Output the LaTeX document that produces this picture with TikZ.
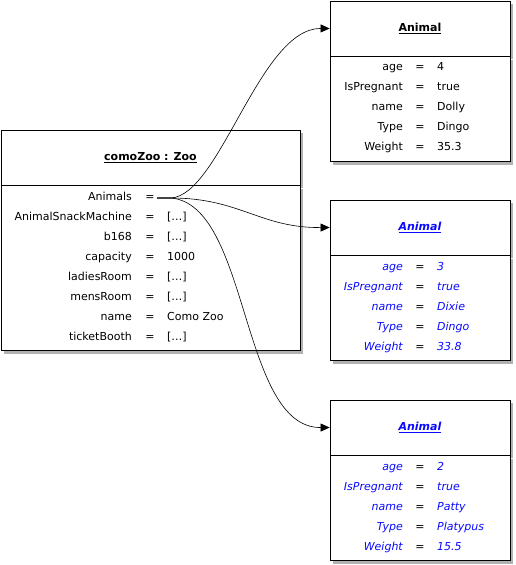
\documentclass[tikz,border=0pt]{standalone}
\usepackage{fontspec}
\setmainfont{DejaVu Sans}
\usetikzlibrary{arrows.meta,shadows}
\definecolor{objblue}{RGB}{10,10,255}
\tikzset{
  objbox/.style={draw=black, fill=white, line width=0.8pt, inner sep=0pt, drop shadow={shadow xshift=3pt, shadow yshift=-3pt, fill=black!30, opacity=1}},
  objtitle/.style={font=\fontsize{11}{13}\selectfont\bfseries},
  objtitleblue/.style={font=\fontsize{11}{13}\selectfont\bfseries\itshape, text=objblue},
  attr/.style={inner sep=0pt, font=\fontsize{11}{13}\selectfont},
  attrblue/.style={attr, font=\fontsize{11}{13}\selectfont\itshape, text=objblue},
  link/.style={-{Triangle[length=9pt,width=8pt]}, line width=0.6pt}
}
\begin{document}
\begin{tikzpicture}[x=1pt, y=1pt]
\useasboundingbox (0,0) rectangle (515,-565);

\node[objbox, objtitle, minimum width=299pt, minimum height=55pt] (zooHead) at (150.5,-157.5) {\underline{comoZoo : Zoo}};
\node[objbox, minimum width=299pt, minimum height=165pt, anchor=north] (zooBody) at (zooHead.south) {};
\foreach \key [count=\i] in {Animals, AnimalSnackMachine, b168, capacity, ladiesRoom, mensRoom, name, ticketBooth} {
  \node[attr, anchor=mid east] (zooKey\i) at (132,{-178-20*\i}) {\key};
  \node[attr] (zooEq\i) at (150,{-178-20*\i}) {=};
}
\foreach \val [count=\i from 2] in {{[…]}, {[…]}, 1000, {[…]}, {[…]}, Como Zoo, {[…]}} {
  \node[attr, anchor=mid west] (zooVal\i) at (167,{-178-20*\i}) {\val};
}
\coordinate (animalsLink) at (157,-198);

\node[objbox, objtitle, minimum width=180pt, minimum height=55pt] (dollyHead) at (420,-28.5) {\underline{Animal}};
\node[objbox, minimum width=180pt, minimum height=105pt, anchor=north] (dollyBody) at (dollyHead.south) {};
\foreach \key/\val [count=\i] in {age/4, IsPregnant/true, name/Dolly, Type/Dingo, Weight/35.3} {
  \node[attr, anchor=mid east] (dollyKey\i) at (403,{-48-20*\i}) {\key};
  \node[attr] (dollyEq\i) at (420,{-48-20*\i}) {=};
  \node[attr, anchor=mid west] (dollyVal\i) at (437,{-48-20*\i}) {\val};
}

\node[objbox, objtitleblue, minimum width=180pt, minimum height=55pt] (dixieHead) at (420,-227.5) {\underline{Animal}};
\node[objbox, minimum width=180pt, minimum height=105pt, anchor=north] (dixieBody) at (dixieHead.south) {};
\foreach \key/\val [count=\i] in {age/3, IsPregnant/true, name/Dixie, Type/Dingo, Weight/33.8} {
  \node[attrblue, anchor=mid east] (dixieKey\i) at (403,{-248-20*\i}) {\key};
  \node[attr] (dixieEq\i) at (420,{-248-20*\i}) {=};
  \node[attrblue, anchor=mid west] (dixieVal\i) at (437,{-248-20*\i}) {\val};
}

\node[objbox, objtitleblue, minimum width=180pt, minimum height=55pt] (pattyHead) at (420,-427.5) {\underline{Animal}};
\node[objbox, minimum width=180pt, minimum height=105pt, anchor=north] (pattyBody) at (pattyHead.south) {};
\foreach \key/\val [count=\i] in {age/2, IsPregnant/true, name/Patty, Type/Platypus, Weight/15.5} {
  \node[attrblue, anchor=mid east] (pattyKey\i) at (403,{-448-20*\i}) {\key};
  \node[attr] (pattyEq\i) at (420,{-448-20*\i}) {=};
  \node[attrblue, anchor=mid west] (pattyVal\i) at (437,{-448-20*\i}) {\val};
}

\draw[link] (animalsLink) -- ++(14,0) .. controls (220,-195) and (260,-28) .. (dollyHead.west);
\draw[link] (animalsLink) -- ++(14,0) .. controls (240,-198) and (260,-228) .. (dixieHead.west);
\draw[link] (animalsLink) -- ++(14,0) .. controls (250,-205) and (240,-428) .. (pattyHead.west);
\end{tikzpicture}
\end{document}
